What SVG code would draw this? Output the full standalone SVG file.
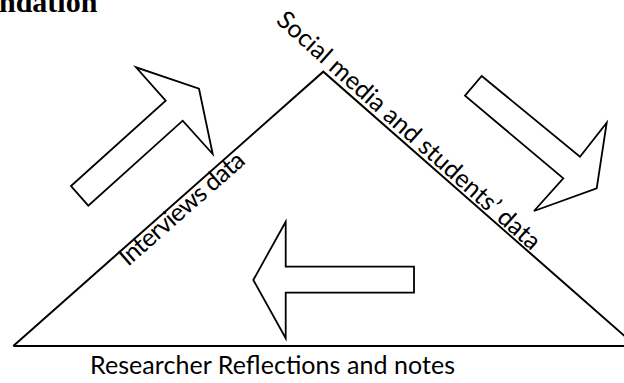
<svg xmlns="http://www.w3.org/2000/svg" width="624" height="383" viewBox="0 0 624 383">
  <style>
    .edge { fill: none; stroke: #000; stroke-width: 2; stroke-linejoin: miter; }
    .arrow { fill: #fff; stroke: #000; stroke-width: 1.8; stroke-linejoin: miter; }
    .lbl { font-family: Lato, "Open Sans", "Liberation Sans", sans-serif; font-size: 25px; fill: #000; }
    .title { font-family: "Liberation Serif", "Times New Roman", serif; font-weight: bold; font-size: 30px; fill: #000; }
  </style>
  <rect width="624" height="383" fill="#fff"/>
  <g id="title">
    <text class="title" x="-1" y="12">ndation</text>
  </g>
  <g id="connectors">
    <polygon id="arrow-up-right" class="arrow" points="71,186 165.7,100.7 136,67.3 199,88.7 212.7,154 182.7,120.7 88.3,205.7"/>
    <polygon id="arrow-down-right" class="arrow" points="481.7,76 580,156.7 606.7,122.7 596.7,188.3 534,211 563.3,178.3 465,95.7"/>
    <polygon id="arrow-left" class="arrow" points="253.3,280 285.7,221.7 285.7,266.7 414,266.7 414,292.7 285.7,292.7 285.7,338.3"/>
  </g>
  <g id="triangle">
    <polyline class="edge" points="13.3,346 323.3,71.7 636,346 13.3,346"/>
  </g>
  <g id="node-interviews">
    <text class="lbl" transform="translate(128,267) rotate(-41.3)" textLength="158">Interviews data</text>
  </g>
  <g id="node-social">
    <text class="lbl" transform="translate(275,22) rotate(41.8)" textLength="344">Social media and students’ data</text>
  </g>
  <g id="node-researcher">
    <text class="lbl" x="90" y="374" textLength="365">Researcher Reflections and notes</text>
  </g>
</svg>
